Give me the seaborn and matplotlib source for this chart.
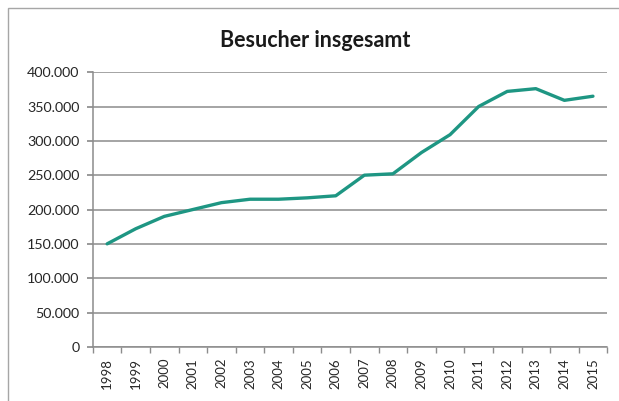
import matplotlib

matplotlib.use("Agg")
import matplotlib.pyplot as plt
import numpy as np
import pandas as pd
import seaborn as sns
from matplotlib.patches import Rectangle
from matplotlib.ticker import FixedLocator, FuncFormatter

years = [
    "1998", "1999", "2000", "2001", "2002", "2003", "2004", "2005", "2006",
    "2007", "2008", "2009", "2010", "2011", "2012", "2013", "2014", "2015",
]
visitors = [
    150000, 172000, 190000, 200000, 210000, 215000, 215000, 217000, 220000,
    250000, 252000, 283000, 309000, 350000, 372000, 376000, 359000, 365000,
]
title = "Besucher insgesamt"

frame = pd.DataFrame({"pos": np.arange(len(years)), "visitors": visitors})

sns.set_theme(style="white")
plt.rcParams["font.family"] = ["Lato", "DejaVu Sans"]

fig = plt.figure(figsize=(6.19, 4.01), dpi=100)
ax = fig.add_axes([0.150, 0.135, 0.831, 0.685])

# outer chart frame, Excel style (right and bottom edges run off the image)
fig.patches.append(
    Rectangle((0.013, -0.05), 1.05, 1.03, transform=fig.transFigure,
              fill=False, edgecolor="#a6a6a6", linewidth=1.0)
)

sns.lineplot(data=frame, x="pos", y="visitors", ax=ax, color="#1e9683",
             linewidth=2.4, solid_capstyle="round")

ax.set_xlim(-0.5, len(years) - 0.5)
ax.set_ylim(0, 400000)
ax.set_yticks(np.arange(0, 400001, 50000))
ax.yaxis.set_major_formatter(
    FuncFormatter(lambda v, _: f"{int(v):,}".replace(",", "."))
)
ax.yaxis.grid(True, color="#8c8c8c", linewidth=1.1)
ax.set_axisbelow(True)

ax.set_xticks(frame["pos"])
ax.set_xticklabels(years, rotation=90)
ax.xaxis.set_minor_locator(FixedLocator(np.arange(-0.5, len(years), 1)))
ax.tick_params(axis="x", which="major", length=0, pad=8, labelsize=9.5,
               labelcolor="#262626")
ax.tick_params(axis="x", which="minor", length=4, color="#8c8c8c",
               direction="out", bottom=True)
ax.tick_params(axis="y", length=4.5, color="#8c8c8c", direction="out",
               left=True, labelsize=10.3, labelcolor="#262626", pad=5)

for side in ["top", "right"]:
    ax.spines[side].set_visible(False)
for side in ["left", "bottom"]:
    ax.spines[side].set_color("#8c8c8c")
    ax.spines[side].set_linewidth(1.1)

ax.set_xlabel("")
ax.set_ylabel("")

fig.text(0.509, 0.9, title, ha="center", va="center", fontsize=15.5,
         fontweight="bold", color="#1a1a1a")

fig.savefig("out.png", dpi=100)
